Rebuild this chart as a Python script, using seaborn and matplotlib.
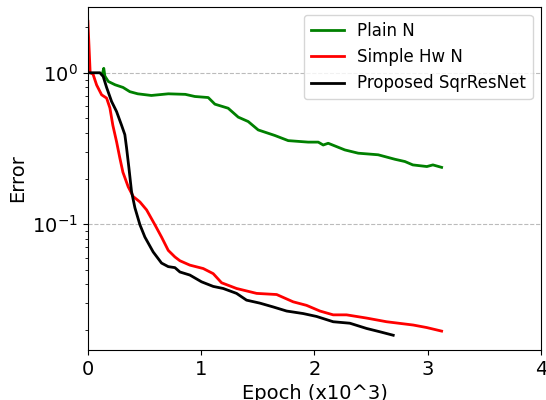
import numpy as np
import pandas as pd
import matplotlib
matplotlib.use('Agg')
import matplotlib.pyplot as plt
import seaborn as sns

# --- data (epoch in thousands, error) ---
plain_x = [0.13, 0.14, 0.15, 0.18, 0.24, 0.31, 0.37, 0.44, 0.56, 0.71, 0.86, 0.944,
           1.062, 1.121, 1.238, 1.327, 1.415, 1.503, 1.65, 1.768, 1.944, 2.033, 2.077,
           2.121, 2.268, 2.386, 2.562, 2.71, 2.798, 2.868, 2.992, 3.045, 3.122]
plain_y = [1.0, 1.07, 0.95, 0.876, 0.833, 0.80, 0.75, 0.726, 0.708, 0.726, 0.72, 0.697,
           0.686, 0.62, 0.583, 0.509, 0.476, 0.419, 0.385, 0.356, 0.348, 0.348, 0.333,
           0.342, 0.309, 0.294, 0.287, 0.268, 0.259, 0.246, 0.24, 0.246, 0.237]

hw_x = [0.0, 0.02, 0.045, 0.077, 0.121, 0.165, 0.194, 0.22, 0.253, 0.282, 0.309,
        0.356, 0.40, 0.459, 0.518, 0.591, 0.65, 0.709, 0.768, 0.812, 0.90, 1.018,
        1.106, 1.18, 1.312, 1.489, 1.666, 1.812, 1.93, 2.048, 2.165, 2.283, 2.46,
        2.636, 2.871, 2.989, 3.122]
hw_y = [2.19, 1.0, 0.98, 0.83, 0.715, 0.68, 0.586, 0.45, 0.35, 0.273, 0.22,
        0.176, 0.152, 0.14, 0.124, 0.099, 0.082, 0.067, 0.0606, 0.0572, 0.0535, 0.0508,
        0.047, 0.0409, 0.0375, 0.0348, 0.0342, 0.0306, 0.029, 0.0266, 0.0251, 0.0251, 0.0239,
        0.0226, 0.0215, 0.0207, 0.0196]

sqr_x = [0.0, 0.106, 0.135, 0.165, 0.209, 0.253, 0.297, 0.326, 0.341, 0.362, 0.385,
         0.415, 0.459, 0.503, 0.576, 0.65, 0.709, 0.768, 0.812, 0.90, 1.003, 1.106,
         1.194, 1.312, 1.40, 1.518, 1.636, 1.754, 1.90, 2.018, 2.165, 2.312, 2.46,
         2.577, 2.695]
sqr_y = [1.0, 1.0, 0.945, 0.80, 0.646, 0.554, 0.45, 0.39, 0.32, 0.235, 0.164,
         0.128, 0.099, 0.082, 0.0654, 0.0552, 0.0523, 0.0515, 0.0482, 0.046, 0.0415, 0.0387,
         0.0375, 0.0348, 0.0314, 0.030, 0.0283, 0.0266, 0.0256, 0.0245, 0.0226, 0.0221, 0.0204,
         0.0194, 0.0184]

labels = ['Plain N', 'Simple Hw N', 'Proposed SqrResNet']
colors = ['green', 'red', 'black']

fig, ax = plt.subplots(figsize=(5.46, 4.0), dpi=100)

series = [(plain_x, plain_y), (hw_x, hw_y), (sqr_x, sqr_y)]
for (xs, ys), lab, col in zip(series, labels, colors):
    sns.lineplot(x=xs, y=ys, ax=ax, color=col, label=lab, linewidth=2, sort=False)

ax.set_yscale('log')
ax.set_xlim(0, 4)
ax.set_ylim(0.0147, 2.73)
ax.set_xticks([0, 1, 2, 3, 4])
ax.grid(axis='y', which='major', linestyle='--', color='#bbbbbb', linewidth=0.8)
ax.set_xlabel('Epoch (x10^3)', fontsize=14)
ax.set_ylabel('Error', fontsize=14)
ax.tick_params(axis='both', which='major', labelsize=14)
ax.legend(loc='upper right', fontsize=12)

plt.subplots_adjust(left=0.161, right=0.991, top=0.983, bottom=0.125)
plt.savefig('out.png', dpi=100)
